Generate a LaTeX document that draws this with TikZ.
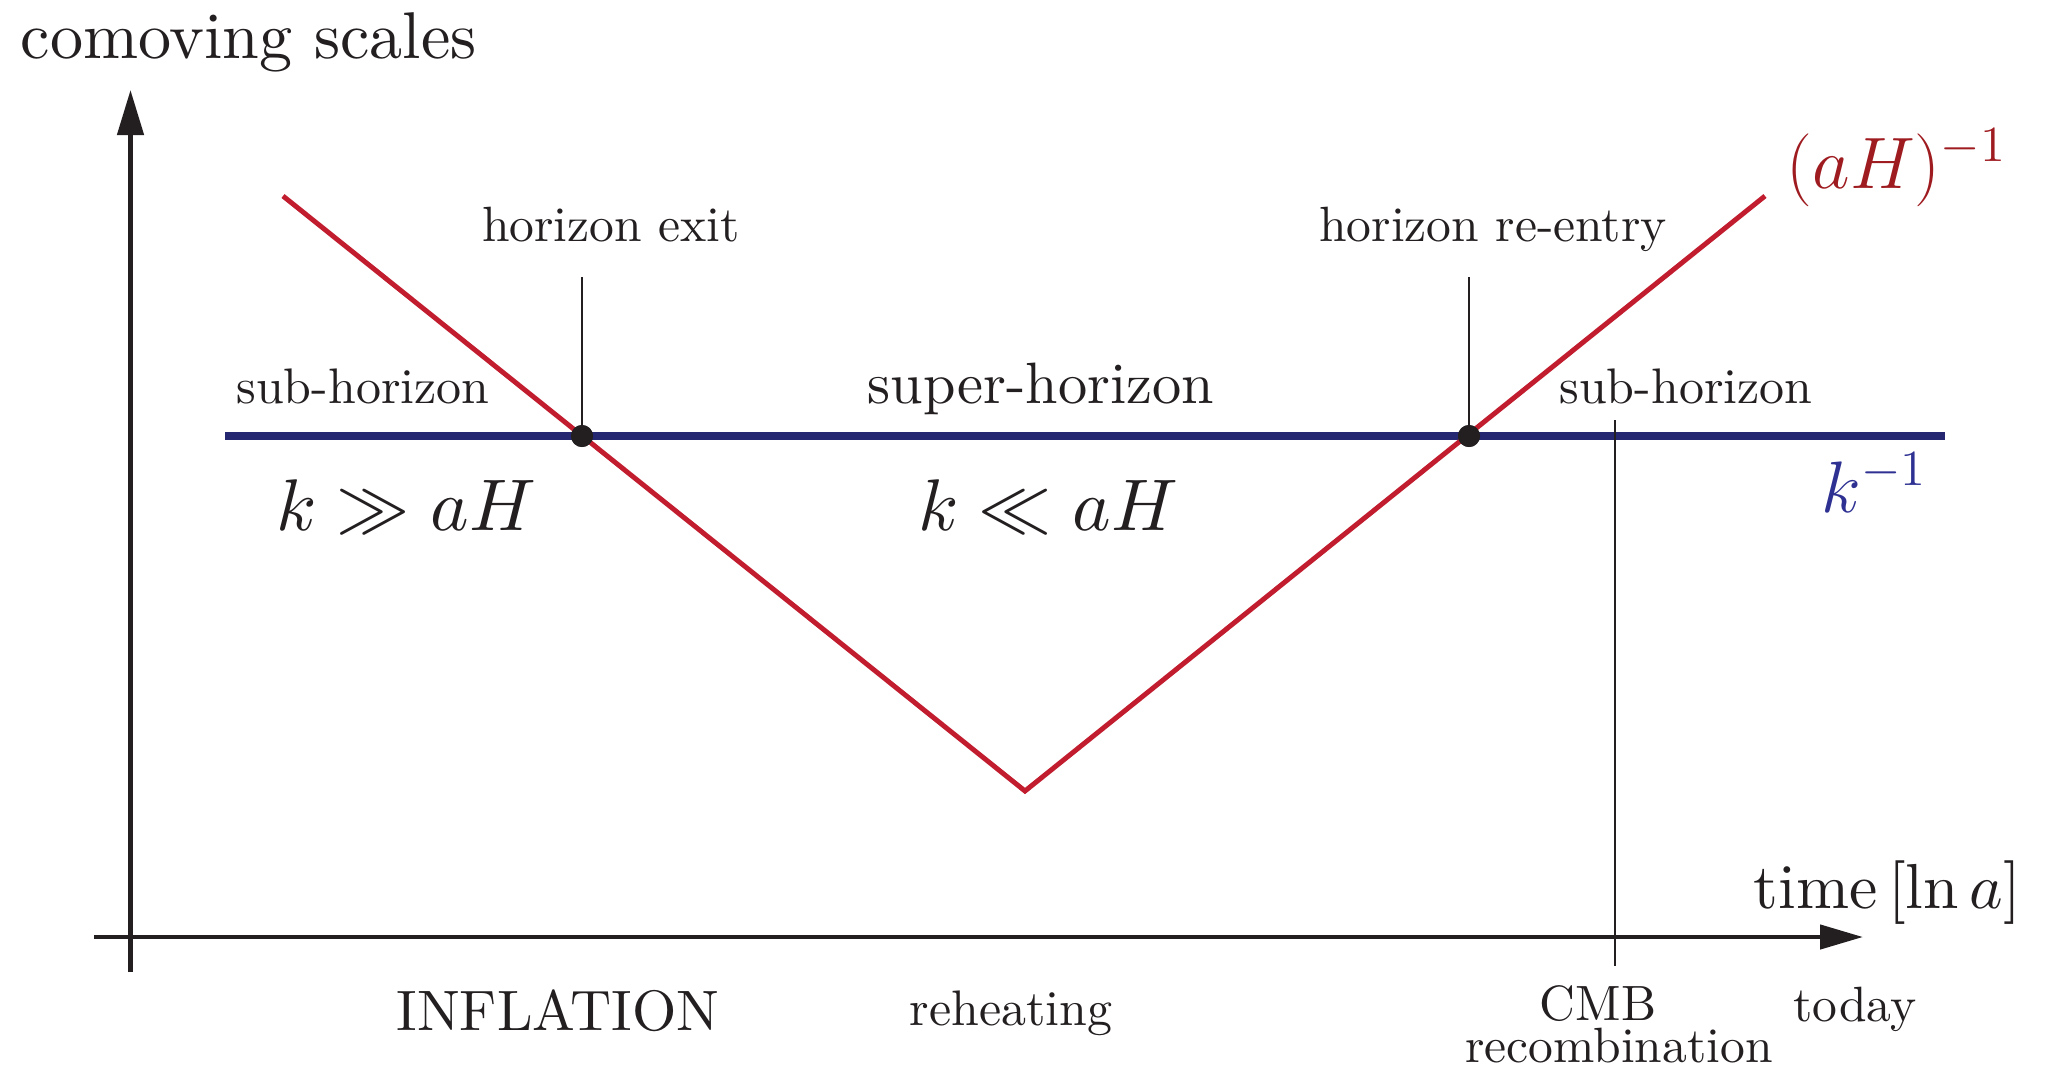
\documentclass[tikz,border=0pt]{standalone}
\usepackage{graphicx}
\usetikzlibrary{arrows.meta}
\definecolor{lred}{RGB}{193,29,46}
\definecolor{tred}{RGB}{158,27,32}
\definecolor{lblue}{RGB}{37,40,112}
\definecolor{tblue}{RGB}{46,49,146}
\definecolor{ink}{RGB}{35,31,32}
\begin{document}
\begin{tikzpicture}[x=0.01cm,y=-0.01cm,
  lbl/.style={inner sep=0pt,anchor=base,text=ink,font=\fontsize{10}{12}\selectfont},
  axisline/.style={draw=ink,line width=1.3pt},
  thinline/.style={draw=ink,line width=0.65pt},
  dotnode/.style={circle,fill=ink,inner sep=0pt,minimum size=0.22cm},
  redline/.style={draw=lred,line width=1.4pt},
  blueline/.style={draw=lblue,line width=2.4pt}]
\useasboundingbox (0,0) rectangle (2047,1075);
% axes
\coordinate (yb) at (130.5,972);
\coordinate (yt) at (130.5,90);
\coordinate (xl) at (94,937);
\coordinate (xr) at (1863,937);
\draw[axisline,-{Triangle[length=12.8pt,width=7.4pt]}] (yb) -- (yt);
\draw[axisline,-{Triangle[length=12.2pt,width=6.8pt]}] (xl) -- (xr);
% blue line
\coordinate (bl) at (225,436);
\coordinate (br) at (1945,436);
\draw[blueline] (bl) -- (br);
% red line
\coordinate (rs) at (283,196);
\coordinate (rb) at (1025,791);
\coordinate (re) at (1765,196);
\draw[redline] (rs) -- (rb) -- (re);
% vertical markers
\coordinate (exittop) at (582,277);
\coordinate (entrytop) at (1469,277);
\coordinate (cmbtop) at (1615,420);
\coordinate (cmbbot) at (1615,966);
\node[dotnode] (exit) at (582,436) {};
\node[dotnode] (entry) at (1469,436) {};
\draw[thinline] (exittop) -- (exit.center);
\draw[thinline] (entrytop) -- (entry.center);
\draw[thinline] (cmbtop) -- (cmbbot);
\node[dotnode] at (exit) {};
\node[dotnode] at (entry) {};
% labels
\node[lbl,anchor=base west] (ylab) at (20,58) {\scalebox{1.88}{comoving scales}};
\node[lbl] (hexit) at (611,241) {\scalebox{1.41}{horizon exit}};
\node[lbl] (hentry) at (1493,241) {\scalebox{1.41}{horizon re-entry}};
\node[lbl] (subl) at (363,403) {\scalebox{1.42}{sub-horizon}};
\node[lbl] (super) at (1041,403) {\scalebox{1.66}{super-horizon}};
\node[lbl] (subr) at (1686,403) {\scalebox{1.42}{sub-horizon}};
\node[lbl] (kgg) at (406,530) {\scalebox{2.08}{$k \gg aH$}};
\node[lbl] (kll) at (1048,530) {\scalebox{2.08}{$k \ll aH$}};
\node[inner sep=0pt,anchor=base west,text=tred,font=\fontsize{20}{24}\selectfont] (aHlab) at (1786,188) {$(aH)^{-1}$};
\node[inner sep=0pt,anchor=base west,text=tblue,font=\fontsize{20}{24}\selectfont] (klab) at (1821,512) {$k^{-1}$};
\node[lbl,anchor=base west] (xlab) at (1753,908) {\scalebox{1.81}{time\,$[\ln a]$}};
\node[lbl] (infl) at (558,1030) {\scalebox{1.62}{INFLATION}};
\node[lbl] (reh) at (1011,1025) {\scalebox{1.42}{reheating}};
\node[lbl] (cmb) at (1598,1020) {\scalebox{1.41}{CMB}};
\node[lbl] (recomb) at (1619,1062) {\scalebox{1.41}{recombination}};
\node[lbl] (today) at (1855,1021) {\scalebox{1.41}{today}};
\end{tikzpicture}
\end{document}
